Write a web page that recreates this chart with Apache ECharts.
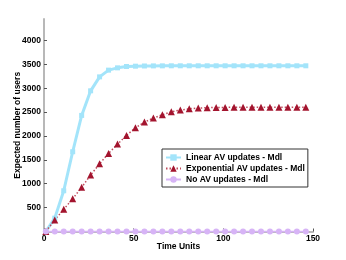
<!DOCTYPE html>
<html><head><meta charset="utf-8">
<script src="https://cdn.jsdelivr.net/npm/echarts@6/dist/echarts.min.js"></script>
<style>html,body{margin:0;padding:0;background:#fff}#c{width:346px;height:260px}</style>
</head><body><div id="c"></div>
<script>
const timeUnits = [1,6,11,16,21,26,31,36,41,46,51,56,61,66,71,76,81,86,91,96,101,106,111,116,121,126,131,136,141,146];
const linearAV = [0,280,853,1670,2431,2946,3238,3379,3427,3455,3462,3466,3468,3469,3470,3470,3470,3470,3470,3470,3470,3470,3470,3470,3470,3470,3470,3470,3470,3470];
const exponentialAV = [0,241,464,686,925,1182,1418,1636,1830,2012,2172,2291,2375,2444,2506,2542,2569,2585,2593,2597,2599,2600,2600,2600,2600,2600,2600,2600,2600,2600];
const noAV = [0,0,0,0,0,0,0,0,0,0,0,0,0,0,0,0,0,0,0,0,0,0,0,0,0,0,0,0,0,0];
const seriesNames = ['Linear AV updates - Mdl','Exponential AV updates - Mdl','No AV updates - Mdl'];
const xTicks = [0,50,100,150];
const yTickLabels = [500,1000,1500,2000,2500,3000,3500,4000];
const yTicks = [0,500,1000,1500,2000,2500,3000,3500,4000];

const pair = arr => timeUnits.map((t,i)=>[t,arr[i]]);
const font = 'Liberation Sans, Arial, Helvetica, sans-serif';
const axisGrey = '#b8b8b8';
const chart = echarts.init(document.getElementById('c'), null, {renderer:'canvas'});
chart.setOption({
  animation:false,
  backgroundColor:'#fff',
  grid:{left:44,right:33,top:19,bottom:28.5,containLabel:false,outerBoundsMode:'none'},
  xAxis:{type:'value',min:0,max:150,interval:50,
    name:'Time Units',nameLocation:'middle',nameGap:11,nameMoveOverlap:false,
    nameTextStyle:{fontFamily:font,fontWeight:'bold',fontSize:8.5,color:'#000',verticalAlign:'top'},
    axisLine:{show:true,lineStyle:{color:axisGrey,width:2}},
    axisTick:{show:true,inside:true,length:3,lineStyle:{color:'#555',width:1},customValues:xTicks},
    axisLabel:{fontFamily:font,fontWeight:'bold',fontSize:8.5,color:'#000',margin:3,customValues:xTicks,formatter:v=>String(v)},
    splitLine:{show:false}},
  yAxis:{type:'value',min:0,max:4450,interval:500,
    name:'Expected number of users',nameLocation:'middle',nameGap:22,nameMoveOverlap:false,
    nameTextStyle:{fontFamily:font,fontWeight:'bold',fontSize:8.5,color:'#000'},
    axisLine:{show:true,lineStyle:{color:axisGrey,width:2}},
    axisTick:{show:true,inside:true,length:3,lineStyle:{color:'#555',width:1},customValues:yTicks},
    axisLabel:{fontFamily:font,fontWeight:'bold',fontSize:8.5,color:'#000',margin:3,customValues:yTickLabels,formatter:v=>String(v)},
    splitLine:{show:false}},
  legend:{left:162,top:149,orient:'vertical',
    backgroundColor:'#fff',borderColor:'#333',borderWidth:1,
    padding:[4,3,3,3],itemWidth:15,itemHeight:8,itemGap:2,
    textStyle:{fontFamily:font,fontWeight:'bold',fontSize:8.5,color:'#000'},
    data:seriesNames},
  series:[
    {name:seriesNames[0],type:'line',data:pair(linearAV),clip:false,
     symbol:'rect',symbolSize:5,color:'#a3e4fa',
     lineStyle:{color:'#a3e4fa',width:3},itemStyle:{color:'#a3e4fa'}},
    {name:seriesNames[1],type:'line',data:pair(exponentialAV),clip:false,
     symbol:'triangle',symbolSize:7,color:'#a3142e',
     lineStyle:{color:'#c04a5c',width:1.5,type:[1.5,2]},itemStyle:{color:'#a3142e'}},
    {name:seriesNames[2],type:'line',data:pair(noAV),clip:false,
     symbol:'circle',symbolSize:6,color:'#d7b4f6',
     lineStyle:{color:'#d7b4f6',width:1.5},itemStyle:{color:'#d7b4f6'}}
  ]
});
</script></body></html>
